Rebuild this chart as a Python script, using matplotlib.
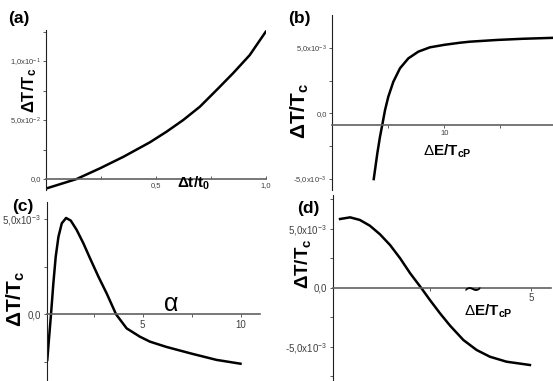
import matplotlib
matplotlib.use('Agg')
import matplotlib.pyplot as plt
from matplotlib.ticker import FixedLocator

plt.rcParams['font.family'] = ['Liberation Sans', 'DejaVu Sans']
plt.rcParams['mathtext.fontset'] = 'custom'
plt.rcParams['mathtext.rm'] = 'Liberation Sans'
plt.rcParams['mathtext.it'] = 'Liberation Sans:italic'
plt.rcParams['mathtext.bf'] = 'Liberation Sans:bold'

# (a) dT/Tc vs dt/t0
a_x = [0.0, 0.138, 0.245, 0.352, 0.472, 0.548, 0.624, 0.70, 0.776, 0.851, 0.927, 1.0]
a_y = [-0.0080, 0.0, 0.0091, 0.0189, 0.0311, 0.0401, 0.0500, 0.0613, 0.0754, 0.0896, 0.105, 0.1248]

# (b) dT/Tc vs dE/TcP
b_x = [3.70, 4.02, 4.26, 4.46, 4.71, 5.0, 5.45, 6.04, 6.79, 7.68, 8.72, 10.0, 11.4, 12.3, 14.7, 17.0, 20.0]
b_y = [-5.0e-3, -3.04e-3, -1.77e-3, -0.88e-3, 0.26e-3, 1.27e-3, 2.41e-3, 3.43e-3, 4.19e-3, 4.70e-3,
       5.03e-3, 5.22e-3, 5.38e-3, 5.46e-3, 5.59e-3, 5.68e-3, 5.76e-3]

# (c) dT/Tc vs alpha
c_x = [0.14, 0.25, 0.33, 0.45, 0.57, 0.71, 0.88, 1.10, 1.34, 1.64, 1.98, 2.32, 2.75, 3.17, 3.65,
       4.19, 4.87, 5.38, 6.23, 7.54, 8.78, 10.0]
c_y = [-2.4e-3, -1.0e-3, 0.0, 1.63e-3, 3.03e-3, 4.08e-3, 4.79e-3, 5.07e-3, 4.93e-3, 4.44e-3, 3.74e-3,
       2.95e-3, 1.98e-3, 1.10e-3, 0.0, -0.74e-3, -1.18e-3, -1.44e-3, -1.72e-3, -2.08e-3, -2.4e-3, -2.6e-3]

# (d) dT/Tc vs dE/TcP (tilde)
d_x = [0.26, 0.51, 0.75, 1.0, 1.25, 1.50, 1.75, 2.0, 2.28, 2.49, 2.74, 2.99, 3.32, 3.65, 3.98, 4.39, 4.97]
d_y = [5.84e-3, 5.98e-3, 5.76e-3, 5.27e-3, 4.54e-3, 3.63e-3, 2.50e-3, 1.22e-3, -0.05e-3, -1.05e-3,
       -2.18e-3, -3.23e-3, -4.45e-3, -5.30e-3, -5.87e-3, -6.29e-3, -6.57e-3]

W, H = 553, 381
fig = plt.figure(figsize=(W / 100, H / 100), dpi=100)


def add_axes(left, right, top, bottom):
    # pixel box -> figure fraction
    return fig.add_axes([left / W, 1 - bottom / H, (right - left) / W, (bottom - top) / H])


def style(ax, xaxis_at, xmaj, xmin, xlabels, ymaj, ymin, ylabels, xdir='out', lsize=5.5):
    for s in ['top', 'right']:
        ax.spines[s].set_visible(False)
    ax.spines['left'].set_color('#202020')
    ax.spines['left'].set_linewidth(0.8)
    ax.spines['bottom'].set_position(('data', xaxis_at))
    ax.spines['bottom'].set_color('#606060')
    ax.spines['bottom'].set_linewidth(1.2)
    ax.xaxis.set_major_locator(FixedLocator(xmaj))
    ax.xaxis.set_minor_locator(FixedLocator(xmin))
    ax.set_xticklabels(xlabels)
    ax.yaxis.set_major_locator(FixedLocator(ymaj))
    ax.yaxis.set_minor_locator(FixedLocator(ymin))
    ax.set_yticklabels(ylabels)
    ax.tick_params(axis='x', which='both', direction=xdir, length=2, width=0.6, colors='#404040',
                   labelsize=lsize, pad=2)
    ax.tick_params(axis='y', which='both', direction='out', length=2, width=0.6, colors='#404040',
                   labelsize=lsize, pad=2)
    ax.patch.set_alpha(0)


ax1 = add_axes(46.3, 265.7, 30, 190)
ax1.plot(a_x, a_y, color='black', lw=1.8)
ax1.set_xlim(0, 1.0)
ax1.set_ylim(-0.0093, 0.1263)
style(ax1, 0.0, [0.5, 1.0], [0.25, 0.75], ['0,5', '1,0'],
      [0.0, 0.05, 0.1], [0.025, 0.075, 0.125], ['0,0', '5,0x10$^{-2}$', '1,0x10$^{-1}$'], xdir='in')

ax2 = add_axes(332.3, 561.9, 15, 190)
ax2.plot(b_x, b_y, color='black', lw=1.8)
ax2.set_xlim(0, 20.5)
ax2.set_ylim(-5.83e-3, 7.49e-3)
style(ax2, -0.85e-3, [10, 20], [5, 15], ['10', '20'],
      [-5e-3, 0.0, 5e-3], [-2.5e-3, 2.5e-3], ['-5,0x10$^{-3}$', '0,0', '5,0x10$^{-3}$'])

ax3 = add_axes(46.5, 260.1, 202, 381)
ax3.plot(c_x, c_y, color='black', lw=1.8)
ax3.set_xlim(0.1, 11.0)
ax3.set_ylim(-3.51e-3, 5.91e-3)
style(ax3, 0.0, [5, 10], [2.5, 7.5], ['5', '10'],
      [0.0, 5e-3], [-2.5e-3, 2.5e-3], ['0,0', '5,0x10$^{-3}$'], lsize=7)

ax4 = add_axes(332.8, 551.3, 195, 381)
ax4.plot(d_x, d_y, color='black', lw=1.8)
ax4.set_xlim(0.08, 5.5)
ax4.set_ylim(-7.93e-3, 7.88e-3)
style(ax4, 0.0, [5], [2.5], ['5'],
      [-5e-3, 0.0, 5e-3], [-7.5e-3, -2.5e-3, 2.5e-3, 7.5e-3], ['-5,0x10$^{-3}$', '0,0', '5,0x10$^{-3}$'],
      lsize=7)


def ftext(x, y, s, **kw):
    fig.text(x / W, 1 - y / H, s, **kw)


# panel letters
for x, y, s in [(8, 18, '(a)'), (288, 18, '(b)'), (12, 206, '(c)'), (297, 209, '(d)')]:
    ftext(x, y, s, fontsize=12.5, fontweight='bold', ha='left', va='center')

# y labels
ylab = r'$\mathbf{\Delta T/T_c}$'
ftext(30, 90, ylab, fontsize=12, rotation=90, ha='center', va='center')
ftext(300, 111, ylab, fontsize=15, rotation=90, ha='center', va='center')
ftext(16, 299, ylab, fontsize=15, rotation=90, ha='center', va='center')
ftext(303, 264, ylab, fontsize=13.5, rotation=90, ha='center', va='center')

# x labels
ftext(194, 183, r'$\mathbf{\Delta t/t_0}$', fontsize=11, ha='center', va='center')
ftext(447, 151, r'$\Delta\mathbf{E/T_{cP}}$', fontsize=11, ha='center', va='center')
ftext(171, 304, 'α', fontsize=18, ha='center', va='center')
ftext(488, 311, r'$\Delta\mathbf{E/T_{cP}}$', fontsize=11, ha='center', va='center')
ftext(472, 302, '~', fontsize=17, family='DejaVu Sans', ha='center', va='bottom')

fig.savefig('out.png', dpi=100)
